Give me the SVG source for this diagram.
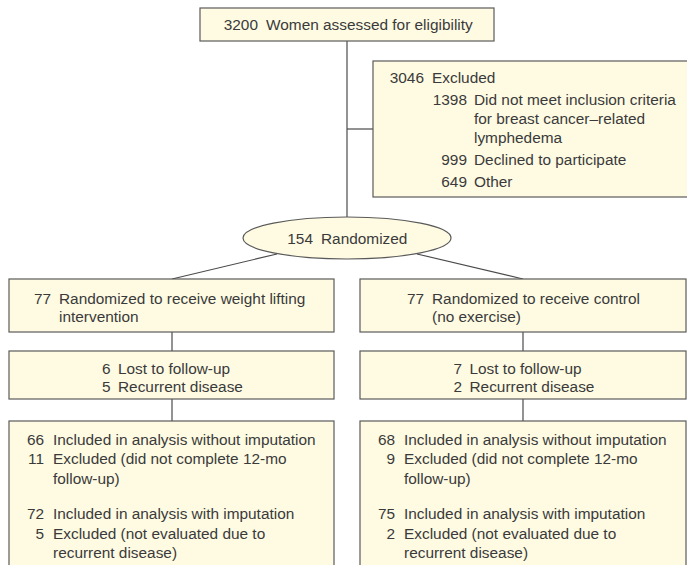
<svg xmlns="http://www.w3.org/2000/svg" width="687" height="565" viewBox="0 0 687 565">
<style>
.box{fill:#fffbe3;stroke:#5a5a5a;stroke-width:1.2}
.ln{stroke:#4a4a4a;stroke-width:1.2;fill:none}
text{font-family:"Liberation Sans",Arial,Helvetica,sans-serif;font-size:15.4px;fill:#3a3a3a}
.e{text-anchor:end}
</style>
<rect width="687" height="565" fill="#ffffff"/>
<g id="connectors">
<line class="ln" x1="347" y1="41" x2="347" y2="218"/>
<line class="ln" x1="347" y1="129" x2="373" y2="129"/>
<line class="ln" x1="277" y1="254" x2="172" y2="279"/>
<line class="ln" x1="417" y1="254" x2="523" y2="279"/>
<line class="ln" x1="172" y1="332" x2="172" y2="351"/>
<line class="ln" x1="172" y1="399" x2="172" y2="421"/>
<line class="ln" x1="523" y1="332" x2="523" y2="351"/>
<line class="ln" x1="523" y1="399" x2="523" y2="421"/>
</g>
<g id="assessed">
<rect class="box" x="200" y="8" width="294" height="33"/>
<text x="258" y="30" class="e">3200</text>
<text x="266" y="30">Women assessed for eligibility</text>
</g>
<g id="excluded">
<rect class="box" x="373" y="61" width="330" height="136"/>
<text x="424" y="82.5" class="e">3046</text>
<text x="432" y="82.5">Excluded</text>
<text x="467" y="104.5" class="e">1398</text>
<text x="474" y="104.5">Did not meet inclusion criteria</text>
<text x="474" y="123.5">for breast cancer–related</text>
<text x="474" y="142.5">lymphedema</text>
<text x="467" y="164.5" class="e">999</text>
<text x="474" y="164.5">Declined to participate</text>
<text x="467" y="186.5" class="e">649</text>
<text x="474" y="186.5">Other</text>
</g>
<g id="randomized">
<ellipse class="box" cx="347" cy="238" rx="104" ry="21"/>
<text x="313" y="243.5" class="e">154</text>
<text x="321" y="243.5">Randomized</text>
</g>
<g id="weightlifting">
<rect class="box" x="9" y="279" width="325" height="53"/>
<text x="51" y="303.5" class="e">77</text>
<text x="59" y="303.5">Randomized to receive weight lifting</text>
<text x="59" y="321.5">intervention</text>
</g>
<g id="control">
<rect class="box" x="360" y="279" width="326" height="53"/>
<text x="424" y="303.5" class="e">77</text>
<text x="432" y="303.5">Randomized to receive control</text>
<text x="432" y="321.5">(no exercise)</text>
</g>
<g id="lost-left">
<rect class="box" x="9" y="351" width="325" height="48"/>
<text x="110.5" y="373.5" class="e">6</text>
<text x="118" y="373.5">Lost to follow-up</text>
<text x="110.5" y="391.5" class="e">5</text>
<text x="118" y="391.5">Recurrent disease</text>
</g>
<g id="lost-right">
<rect class="box" x="360" y="351" width="326" height="48"/>
<text x="462" y="373.5" class="e">7</text>
<text x="469.5" y="373.5">Lost to follow-up</text>
<text x="462" y="391.5" class="e">2</text>
<text x="469.5" y="391.5">Recurrent disease</text>
</g>
<g id="analysis-left">
<rect class="box" x="9" y="421" width="325" height="160"/>
<text x="44" y="444.5" class="e">66</text>
<text x="53" y="444.5">Included in analysis without imputation</text>
<text x="44" y="464" class="e">11</text>
<text x="53" y="464">Excluded (did not complete 12-mo</text>
<text x="53" y="483.5">follow-up)</text>
<text x="44" y="519" class="e">72</text>
<text x="53" y="519">Included in analysis with imputation</text>
<text x="44" y="538.5" class="e">5</text>
<text x="53" y="538.5">Excluded (not evaluated due to</text>
<text x="53" y="558">recurrent disease)</text>
</g>
<g id="analysis-right">
<rect class="box" x="360" y="421" width="326" height="160"/>
<text x="395" y="444.5" class="e">68</text>
<text x="404" y="444.5">Included in analysis without imputation</text>
<text x="395" y="464" class="e">9</text>
<text x="404" y="464">Excluded (did not complete 12-mo</text>
<text x="404" y="483.5">follow-up)</text>
<text x="395" y="519" class="e">75</text>
<text x="404" y="519">Included in analysis with imputation</text>
<text x="395" y="538.5" class="e">2</text>
<text x="404" y="538.5">Excluded (not evaluated due to</text>
<text x="404" y="558">recurrent disease)</text>
</g>
</svg>
